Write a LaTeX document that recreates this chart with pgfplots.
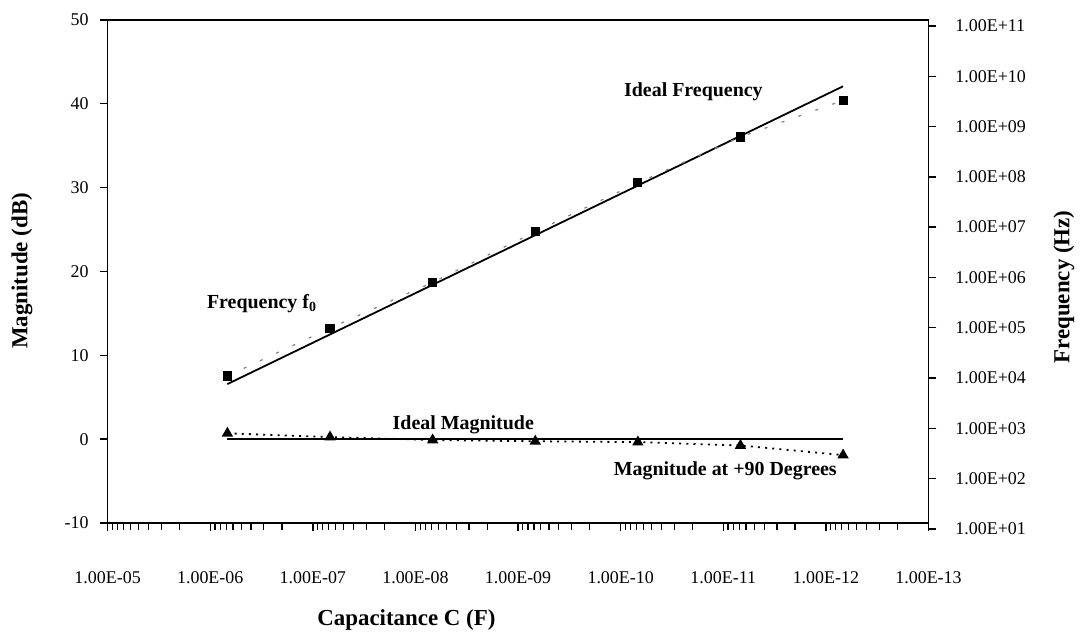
\documentclass[border=0pt]{standalone}
\usepackage{fontspec}
\setmainfont{Liberation Serif}
\usepackage{pgfplots}
\pgfplotsset{compat=1.18}
\begin{document}
\begin{tikzpicture}
\begin{axis}[
  scale only axis, width=412pt, height=252.5pt,
  xmode=log, x dir=reverse, xmin=1e-13, xmax=1e-5,
  tick align=outside,
  tick label style={font=\fontsize{9}{10}\selectfont},
  axis line style={line width=0.75pt},
  major tick style={line width=0.7pt, black},
  minor tick style={line width=0.6pt, black},
  major tick length=4pt, minor tick length=3.5pt,
  ymin=-10, ymax=50, ytick={-10,0,10,20,30,40,50},
  yticklabels={-10,0,10,20,30,40,50},
  xtick={1e-5,1e-6,1e-7,1e-8,1e-9,1e-10,1e-11,1e-12,1e-13},
  xticklabels={1.00E-05,1.00E-06,1.00E-07,1.00E-08,1.00E-09,1.00E-10,1.00E-11,1.00E-12,1.00E-13},
  minor xtick={2e-6,3e-6,4e-6,5e-6,6e-6,7e-6,8e-6,9e-6,
               2e-7,3e-7,4e-7,5e-7,6e-7,7e-7,8e-7,9e-7,
               2e-8,3e-8,4e-8,5e-8,6e-8,7e-8,8e-8,9e-8,
               2e-9,3e-9,4e-9,5e-9,6e-9,7e-9,8e-9,9e-9,
               2e-10,3e-10,4e-10,5e-10,6e-10,7e-10,8e-10,9e-10,
               2e-11,3e-11,4e-11,5e-11,6e-11,7e-11,8e-11,9e-11,
               2e-12,3e-12,4e-12,5e-12,6e-12,7e-12,8e-12,9e-12,
               2e-13,3e-13,4e-13,5e-13,6e-13,7e-13,8e-13,9e-13},
  xtick pos=bottom, ytick pos=left,
  xticklabel style={yshift=-17pt},
  yticklabel style={xshift=-2pt},
  xlabel={Capacitance C (F)},
  xlabel style={at={(axis description cs:0.364,-0.192)}, anchor=center, font=\fontsize{11.5}{13}\selectfont\bfseries},
  ylabel={Magnitude (dB)},
  ylabel style={at={(axis description cs:-0.1044,0.501)}, anchor=center, font=\fontsize{11.5}{13}\selectfont\bfseries},
  clip=false,
]
% Ideal magnitude
\addplot[black, line width=0.9pt] coordinates {(6.8e-7,0) (6.8e-13,0)};
% Magnitude at +90 degrees
\addplot[black, line width=0.9pt, dash pattern=on 1pt off 2.6pt, mark=triangle*, mark size=2.4pt, mark options={solid}]
  coordinates {(6.8e-7,0.7) (6.8e-8,0.25) (6.8e-9,-0.1) (6.8e-10,-0.25) (6.8e-11,-0.35) (6.8e-12,-0.75) (6.8e-13,-1.9)};
\node[font=\fontsize{10}{12}\selectfont\bfseries] at (axis description cs:0.1881,0.4356) {Frequency f\textsubscript{0}};
\node[font=\fontsize{10}{12}\selectfont\bfseries] at (axis description cs:0.7136,0.8574) {Ideal Frequency};
\node[font=\fontsize{10}{12}\selectfont\bfseries] at (axis description cs:0.4333,0.1960) {Ideal Magnitude};
\node[font=\fontsize{10}{12}\selectfont\bfseries] at (axis description cs:0.7524,0.1030) {Magnitude at +90 Degrees};
\end{axis}
\begin{axis}[
  at={(0pt,-3pt)},
  scale only axis, width=412pt, height=252.5pt,
  xmode=log, x dir=reverse, xmin=1e-13, xmax=1e-5,
  tick align=outside,
  tick label style={font=\fontsize{9}{10}\selectfont},
  axis line style={line width=0.75pt},
  major tick style={line width=0.7pt, black},
  major tick length=4pt,
  axis y line*=right, axis x line=none,
  ymode=log, ymin=10, ymax=1e11,
  ytick={1e1,1e2,1e3,1e4,1e5,1e6,1e7,1e8,1e9,1e10,1e11},
  yticklabels={1.00E+01,1.00E+02,1.00E+03,1.00E+04,1.00E+05,1.00E+06,1.00E+07,1.00E+08,1.00E+09,1.00E+10,1.00E+11},
  yminorticks=false,
  yticklabel style={xshift=6pt},
  ylabel={Frequency (Hz)},
  ylabel style={at={(axis description cs:1.165,0.481)}, anchor=center, font=\fontsize{11.5}{13}\selectfont\bfseries},
  clip=false,
]
% Ideal frequency
\addplot[black, line width=0.9pt] coordinates {(6.8e-7,7.6e3) (6.8e-13,6.3e9)};
% Measured frequency f0
\addplot[gray, line width=0.6pt, dash pattern=on 1.5pt off 7.5pt, mark=square*, mark size=2pt, mark options={solid, black}]
  coordinates {(6.8e-7,1.1e4) (6.8e-8,9.8e4) (6.8e-9,8.0e5) (6.8e-10,8.1e6) (6.8e-11,7.6e7) (6.8e-12,6.2e8) (6.8e-13,3.3e9)};
\end{axis}
\path (-54pt,-55.5pt) rectangle (486.5pt,262.5pt);
\end{tikzpicture}
\end{document}
